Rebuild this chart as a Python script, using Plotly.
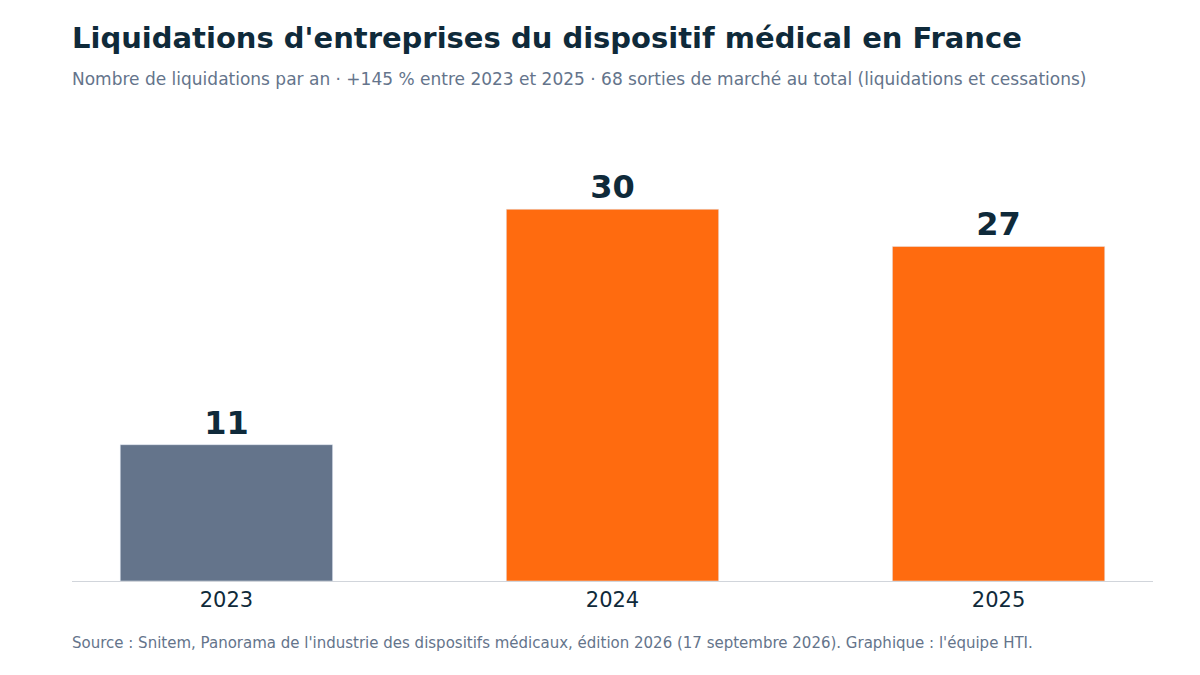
import plotly.graph_objects as go

years = ["2023", "2024", "2025"]
liquidations = [11, 30, 27]
colors = ["#64748b", "#ff6b0f", "#ff6b0f"]

title = "Liquidations d'entreprises du dispositif médical en France"
subtitle = ("Nombre de liquidations par an · +145 % entre 2023 et 2025 · "
            "68 sorties de marché au total (liquidations et cessations)")
source = ("Source : Snitem, Panorama de l'industrie des dispositifs médicaux, "
          "édition 2026 (17 septembre 2026). Graphique : l'équipe HTI.")

H, W = 675, 1200
ML, MR, MT, MB = 64, 55, 112, 102

fig = go.Figure(go.Bar(
    x=years, y=liquidations, marker_color=colors, width=0.55,
    text=[str(v) for v in liquidations], textposition="outside",
    textfont=dict(size=32, color="#0f2a3a", family="DejaVu Sans"),
    texttemplate="<b>%{text}</b>", cliponaxis=False,
))

fig.update_layout(
    width=W, height=H, plot_bgcolor="white", paper_bgcolor="white",
    margin=dict(l=ML, r=MR, t=MT, b=MB),
    font=dict(family="DejaVu Sans", color="#0f2a3a"),
    showlegend=False,
    xaxis=dict(showline=True, linecolor="#d1d5db", linewidth=1, range=[-0.4, 2.4],
               tickfont=dict(size=21, color="#0f2a3a"), ticks=""),
    yaxis=dict(visible=False, range=[0, 37.2]),
)

pw, ph = W - ML - MR, H - MT - MB
def px(xp):
    return (xp - ML) / pw
def py(yp):
    return (H - MB - yp) / ph

for txt, x, y, size, color in [
    (f"<b>{title}</b>", 62, 30, 29, "#0f2a3a"),
    (subtitle, 62, 71, 17, "#64748b"),
    (source, 62, 635, 15, "#64748b"),
]:
    fig.add_annotation(text=txt, x=px(x), y=py(y), xref="paper", yref="paper",
                       xanchor="left", yanchor="middle", showarrow=False,
                       font=dict(size=size, color=color))

fig.write_html("out.html")
